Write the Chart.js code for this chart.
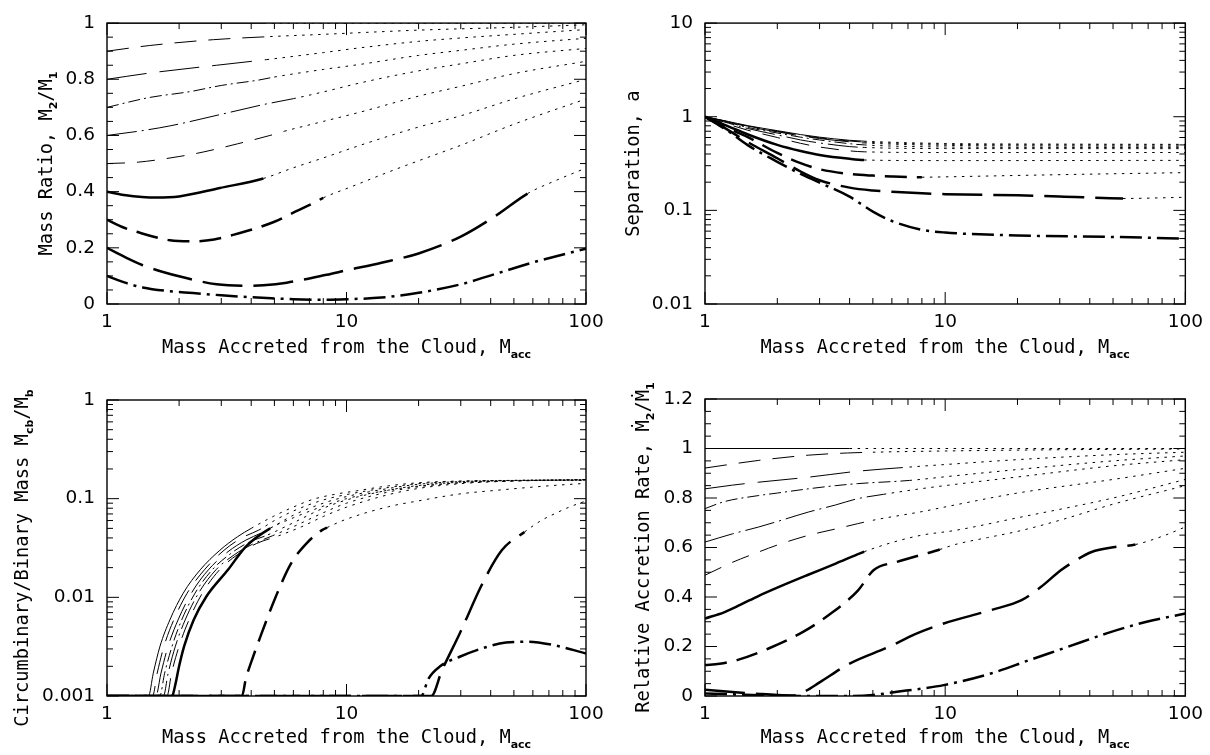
<!DOCTYPE html>
<html>
<head>
<meta charset="utf-8">
<script src="https://cdn.jsdelivr.net/npm/chart.js@4.4.1/dist/chart.umd.min.js"></script>
<style>
    body { margin: 0; background: #ffffff; width: 1210px; height: 755px; position: relative; overflow: hidden; }
    canvas { position: absolute; }
</style>
</head>
<body>
<canvas id="ratio" width="620" height="375" style="left:0;top:0"></canvas>
<canvas id="separation" width="610" height="375" style="left:600px;top:0"></canvas>
<canvas id="cbmass" width="620" height="380" style="left:0;top:375px"></canvas>
<canvas id="rate" width="610" height="380" style="left:600px;top:375px"></canvas>
<script>
// initial mass ratios q0 of the ten runs, in the order of the curve lists below
const initialRatios = [0.1, 0.2, 0.3, 0.4, 0.5, 0.6, 0.7, 0.8, 0.9, 1.0];

// each curve: [M_acc, value] pairs; the break is where the line turns dotted
const ratioCurves = [
    [[1, 0.1], [1.2, 0.075], [1.41, 0.059], [1.8, 0.046], [2.29, 0.039], [3, 0.031], [3.83, 0.025], [5, 0.02], [6, 0.017], [8, 0.015], [10, 0.017], [14, 0.023], [20, 0.04], [30, 0.07], [43, 0.11], [60, 0.148], [100, 0.197]],
    [[1, 0.2], [1.2, 0.165], [1.41, 0.138], [1.7, 0.115], [2.08, 0.095], [2.87, 0.07], [3.83, 0.065], [4.5, 0.067], [5.63, 0.076], [8.26, 0.104], [10, 0.12], [14, 0.147], [20, 0.18], [30, 0.24], [43, 0.32], [57, 0.393], [75, 0.44], [100, 0.484]],
    [[1, 0.3], [1.15, 0.275], [1.33, 0.257], [1.83, 0.227], [2.29, 0.223], [2.8, 0.23], [3.36, 0.246], [4.94, 0.291], [6, 0.325], [7.5, 0.365], [8, 0.378], [10.3, 0.415], [15, 0.47], [20, 0.51], [30, 0.565], [50, 0.64], [100, 0.73]],
    [[1, 0.4], [1.2, 0.387], [1.4, 0.381], [1.61, 0.379], [2, 0.383], [2.96, 0.413], [4.5, 0.447], [6, 0.485], [8, 0.52], [11.4, 0.565], [20, 0.63], [30, 0.67], [50, 0.73], [100, 0.8]],
    [[1, 0.5], [1.35, 0.505], [2, 0.525], [2.52, 0.541], [3.5, 0.57], [4.79, 0.6], [5.5, 0.615], [8, 0.65], [11.4, 0.683], [20, 0.74], [30, 0.775], [50, 0.82], [100, 0.864]],
    [[1, 0.6], [1.4, 0.617], [1.83, 0.634], [3.06, 0.677], [4.5, 0.71], [6, 0.731], [8, 0.755], [11.4, 0.787], [20, 0.83], [30, 0.855], [50, 0.885], [100, 0.91]],
    [[1, 0.7], [1.5, 0.735], [2.22, 0.756], [3, 0.778], [4.35, 0.798], [5, 0.808], [8, 0.835], [11.4, 0.853], [20, 0.885], [30, 0.903], [50, 0.925], [100, 0.946]],
    [[1, 0.8], [1.5, 0.822], [2.87, 0.85], [4.64, 0.87], [8, 0.895], [11.4, 0.912], [20, 0.935], [30, 0.947], [50, 0.96], [100, 0.977]],
    [[1, 0.9], [1.5, 0.92], [2.78, 0.941], [4.8, 0.952], [8, 0.96], [11.4, 0.966], [20, 0.975], [50, 0.985], [100, 0.994]],
    [[1, 1], [4.5, 1], [100, 1]]
];
const ratioBreaks = [null, 57, 8, 4.5, 5.5, 6, 5, 4.64, 4.8, 4.5];

const separationCurves = [
    [[1, 1], [1.25, 0.7], [1.5, 0.5], [2, 0.33], [2.5, 0.245], [3, 0.198], [4, 0.14], [5, 0.097], [6, 0.077], [8, 0.062], [10, 0.058], [20, 0.054], [50, 0.052], [100, 0.05]],
    [[1, 1], [1.25, 0.72], [1.5, 0.54], [2, 0.36], [2.5, 0.26], [3, 0.21], [4, 0.175], [5, 0.163], [6, 0.158], [8, 0.152], [10, 0.149], [20, 0.145], [30, 0.141], [55, 0.134], [100, 0.138]],
    [[1, 1], [1.25, 0.75], [1.5, 0.61], [2, 0.41], [2.5, 0.32], [3, 0.275], [4, 0.245], [5, 0.235], [6, 0.23], [8, 0.226], [10, 0.228], [20, 0.236], [50, 0.246], [100, 0.253]],
    [[1, 1], [1.25, 0.79], [1.5, 0.65], [2, 0.5], [2.5, 0.43], [3, 0.39], [4, 0.355], [4.6, 0.345], [10, 0.34], [100, 0.342]],
    [[1, 1], [1.25, 0.83], [1.5, 0.72], [2, 0.6], [2.5, 0.52], [3, 0.475], [4, 0.432], [4.6, 0.422], [10, 0.415], [100, 0.415]],
    [[1, 1], [1.25, 0.855], [1.5, 0.75], [2, 0.64], [2.5, 0.565], [3, 0.525], [4, 0.48], [4.6, 0.47], [10, 0.457], [100, 0.456]],
    [[1, 1], [1.25, 0.87], [1.5, 0.77], [2, 0.67], [2.5, 0.605], [3, 0.565], [4, 0.515], [4.6, 0.5], [10, 0.475], [30, 0.47], [100, 0.468]],
    [[1, 1], [1.25, 0.88], [1.5, 0.785], [2, 0.69], [2.5, 0.625], [3, 0.585], [4, 0.54], [4.6, 0.525], [10, 0.495], [30, 0.487], [100, 0.484]],
    [[1, 1], [1.25, 0.885], [1.5, 0.795], [2, 0.7], [2.5, 0.635], [3, 0.595], [4, 0.55], [4.6, 0.537], [10, 0.508], [30, 0.5], [100, 0.498]],
    [[1, 1], [1.25, 0.89], [1.5, 0.805], [2, 0.71], [2.5, 0.645], [3, 0.605], [4, 0.56], [4.6, 0.548], [10, 0.518], [30, 0.51], [100, 0.507]]
];
const separationBreaks = [null, 55, 8, 4.6, 4.6, 4.6, 4.6, 4.6, 4.6, 4.6];

// circumbinary mass is floored at 0.001 before the disc forms
const cbMassCurves = [
    [[1, 0.001], [20.5, 0.001], [22, 0.0015], [24.6, 0.002], [29.7, 0.0025], [37, 0.00305], [46.3, 0.00348], [57.5, 0.00355], [72.3, 0.0033], [100, 0.0027]],
    [[1, 0.001], [22.6, 0.001], [25, 0.0018], [29.7, 0.0043], [37, 0.0139], [44.5, 0.03], [55.4, 0.046], [65, 0.06], [74.6, 0.071], [85, 0.082], [100, 0.095]],
    [[1, 0.001], [3.66, 0.001], [3.8, 0.0015], [4, 0.0022], [4.37, 0.004], [5.07, 0.0102], [5.87, 0.0221], [6.81, 0.0353], [7.9, 0.048], [8.3, 0.051], [10, 0.062], [15, 0.083], [20, 0.095], [30, 0.112], [43, 0.122], [70, 0.135], [100, 0.143]],
    [[1, 0.001], [1.87, 0.001], [1.92, 0.00124], [2, 0.002], [2.1, 0.0032], [2.3, 0.0059], [2.6, 0.0102], [3.2, 0.019], [3.8, 0.0327], [4.8, 0.05], [6, 0.064], [8, 0.084], [10, 0.1], [15, 0.122], [20, 0.134], [30, 0.145], [50, 0.151], [100, 0.155]],
    [[1, 0.001], [1.78, 0.001], [1.86, 0.0017], [2, 0.0032], [2.2, 0.0059], [2.5, 0.011], [2.95, 0.019], [3.5, 0.027], [4.2, 0.035], [5.2, 0.042], [6.5, 0.052], [8, 0.066], [10, 0.082], [15, 0.11], [20, 0.127], [30, 0.142], [50, 0.151], [100, 0.156]],
    [[1, 0.001], [1.72, 0.001], [1.8, 0.0017], [1.93, 0.0032], [2.12, 0.0059], [2.41, 0.011], [2.85, 0.019], [3.4, 0.027], [4, 0.034], [4.9, 0.042], [6, 0.052], [8, 0.072], [10, 0.09], [15, 0.117], [20, 0.132], [30, 0.145], [50, 0.152], [100, 0.156]],
    [[1, 0.001], [1.66, 0.001], [1.74, 0.0017], [1.87, 0.0032], [2.05, 0.0059], [2.33, 0.011], [2.75, 0.019], [3.3, 0.028], [3.9, 0.036], [4.7, 0.043], [6, 0.057], [8, 0.08], [10, 0.097], [15, 0.122], [20, 0.136], [30, 0.147], [50, 0.153], [100, 0.156]],
    [[1, 0.001], [1.6, 0.001], [1.68, 0.0017], [1.8, 0.0032], [1.98, 0.0059], [2.25, 0.011], [2.65, 0.019], [3.2, 0.029], [3.8, 0.038], [4.5, 0.046], [5, 0.053], [6, 0.068], [8, 0.09], [10, 0.105], [15, 0.127], [20, 0.14], [30, 0.149], [50, 0.153], [100, 0.155]],
    [[1, 0.001], [1.55, 0.001], [1.62, 0.0017], [1.73, 0.0032], [1.9, 0.0059], [2.16, 0.011], [2.55, 0.019], [3.08, 0.03], [3.65, 0.04], [4.3, 0.048], [5, 0.06], [6, 0.075], [8, 0.097], [10, 0.11], [15, 0.13], [20, 0.142], [30, 0.15], [50, 0.153], [100, 0.154]],
    [[1, 0.001], [1.49, 0.001], [1.56, 0.0017], [1.665, 0.0032], [1.83, 0.0059], [2.08, 0.011], [2.45, 0.019], [2.96, 0.03], [3.5, 0.041], [4, 0.05], [4.94, 0.066], [5.98, 0.082], [7.3, 0.099], [9, 0.111], [11, 0.12], [15, 0.135], [20, 0.145], [30, 0.151], [50, 0.153], [100, 0.153]]
];
const cbMassBreaks = [null, 55.4, 8.3, 4.8, 5.2, 4.9, 4.7, 4.5, 4.3, 4];

const rateCurves = [
    [[1, 0.01], [1.3, 0.007], [1.7, 0.003], [2.2, 0.001], [3, 0], [4, 0], [5, 0.004], [6.3, 0.017], [8, 0.03], [9.86, 0.044], [15.5, 0.091], [22.4, 0.145], [32.5, 0.199], [47, 0.253], [69, 0.3], [100, 0.333]],
    [[1, 0.025], [1.3, 0.016], [1.7, 0.008], [2, 0.004], [2.35, 0.002], [2.6, 0.018], [3, 0.055], [4.02, 0.132], [5.84, 0.199], [7.5, 0.25], [9.86, 0.293], [15.5, 0.347], [20.8, 0.387], [25, 0.44], [30.3, 0.508], [35, 0.548], [40.7, 0.582], [51, 0.602], [62, 0.612], [80, 0.645], [100, 0.683]],
    [[1, 0.125], [1.15, 0.13], [1.36, 0.145], [1.84, 0.192], [2.56, 0.259], [3.34, 0.333], [4.34, 0.427], [5.03, 0.508], [6.3, 0.542], [8.5, 0.578], [9.5, 0.592], [11, 0.612], [15, 0.64], [20, 0.665], [30, 0.71], [50, 0.775], [100, 0.85]],
    [[1, 0.313], [1.2, 0.338], [1.4, 0.368], [1.675, 0.405], [2, 0.438], [2.69, 0.49], [3.5, 0.535], [4.31, 0.572], [4.6, 0.583], [6, 0.62], [8, 0.65], [11, 0.669], [20, 0.72], [50, 0.8], [100, 0.875]],
    [[1, 0.488], [1.3, 0.54], [1.675, 0.582], [2, 0.61], [2.69, 0.649], [3.5, 0.675], [4.31, 0.696], [5, 0.71], [8, 0.745], [11, 0.772], [20, 0.82], [50, 0.875], [100, 0.92]],
    [[1, 0.622], [1.3, 0.655], [1.675, 0.683], [2, 0.705], [2.69, 0.743], [3.5, 0.772], [4.31, 0.797], [5.55, 0.815], [8, 0.838], [11, 0.855], [20, 0.885], [50, 0.93], [100, 0.955]],
    [[1, 0.757], [1.2, 0.785], [1.675, 0.81], [2, 0.82], [2.69, 0.837], [3.5, 0.85], [4.31, 0.858], [7.1, 0.871], [11, 0.89], [20, 0.915], [50, 0.95], [100, 0.97]],
    [[1, 0.837], [1.3, 0.852], [1.675, 0.864], [2.69, 0.884], [4.31, 0.908], [7.1, 0.925], [11, 0.938], [20, 0.955], [50, 0.975], [100, 0.985]],
    [[1, 0.921], [1.675, 0.952], [2.69, 0.973], [3.93, 0.982], [5, 0.985], [10, 0.99], [30, 0.995], [100, 0.998]],
    [[1, 1], [4, 1], [100, 1]]
];
const rateBreaks = [null, 62, 9.5, 4.6, 5, 5.55, 7.1, 7.1, 5, 4];

// tick values
const maccTicks = [1, 10, 100];
const maccMinor = [2, 3, 4, 5, 6, 7, 8, 9, 20, 30, 40, 50, 60, 70, 80, 90];
const ratioTicks = [0, 0.2, 0.4, 0.6, 0.8, 1];
const ratioMinor = [0.05, 0.1, 0.15, 0.25, 0.3, 0.35, 0.45, 0.5, 0.55, 0.65, 0.7, 0.75, 0.85, 0.9, 0.95];
const separationTicks = [0.01, 0.1, 1, 10];
const separationMinor = [0.02, 0.03, 0.04, 0.05, 0.06, 0.07, 0.08, 0.09, 0.2, 0.3, 0.4, 0.5, 0.6, 0.7, 0.8, 0.9, 2, 3, 4, 5, 6, 7, 8, 9];
const cbMassTicks = [0.001, 0.01, 0.1, 1];
const cbMassMinor = [0.002, 0.003, 0.004, 0.005, 0.006, 0.007, 0.008, 0.009, 0.02, 0.03, 0.04, 0.05, 0.06, 0.07, 0.08, 0.09, 0.2, 0.3, 0.4, 0.5, 0.6, 0.7, 0.8, 0.9];
const rateTicks = [0, 0.2, 0.4, 0.6, 0.8, 1, 1.2];
const rateMinor = [0.05, 0.1, 0.15, 0.25, 0.3, 0.35, 0.45, 0.5, 0.55, 0.65, 0.7, 0.75, 0.85, 0.9, 0.95, 1.05, 1.1, 1.15];

// line look for each q0, thick for the low ratios
const lineStyles = [
    { width: 2.5, dash: [22, 6, 3, 6] },
    { width: 2.5, dash: [40, 11] },
    { width: 2.5, dash: [22, 10] },
    { width: 2.5, dash: [] },
    { width: 1, dash: [18, 12] },
    { width: 1, dash: [30, 5, 2, 5] },
    { width: 1, dash: [12, 4, 2, 4] },
    { width: 1, dash: [40, 13] },
    { width: 1, dash: [22, 12] },
    { width: 1, dash: [] }
];
const dottedDash = [2.5, 5.5];

const TITLE_FONT = '18.7px "DejaVu Sans Mono", monospace';
const SUB_FONT = 'bold 11px "DejaVu Sans", sans-serif';
const tickFont = { family: 'DejaVu Sans', size: 18.5 };

const accLabel = [{ text: 'Mass Accreted from the Cloud, M' }, { text: 'acc', sub: true }];

function drawRichText(ctx, parts, x, y, angle) {
    ctx.save();
    ctx.translate(x, y);
    ctx.rotate(angle);
    ctx.fillStyle = '#000';
    ctx.textBaseline = 'alphabetic';
    ctx.textAlign = 'left';
    let total = 0;
    const widths = parts.map(p => {
        ctx.font = p.sub ? SUB_FONT : TITLE_FONT;
        const w = ctx.measureText(p.text).width;
        total += w;
        return w;
    });
    let cx = -total / 2;
    parts.forEach((p, i) => {
        ctx.font = p.sub ? SUB_FONT : TITLE_FONT;
        ctx.fillText(p.text, cx, p.sub ? 5 : 0);
        cx += widths[i];
    });
    ctx.restore();
}

// box, inward tick marks on all four sides, and the axis titles
function framePlugin(cfg) {
    return {
        id: 'frame',
        afterDraw(chart) {
            const { ctx, chartArea: a, scales } = chart;
            const xs = scales.x;
            const ys = scales.y;
            ctx.save();
            ctx.strokeStyle = '#000';
            ctx.lineWidth = 1;
            ctx.beginPath();
            const xMark = (v, len) => {
                const px = xs.getPixelForValue(v);
                ctx.moveTo(px, a.bottom);
                ctx.lineTo(px, a.bottom - len);
                ctx.moveTo(px, a.top);
                ctx.lineTo(px, a.top + len);
            };
            const yMark = (v, len) => {
                const py = ys.getPixelForValue(v);
                ctx.moveTo(a.left, py);
                ctx.lineTo(a.left + len, py);
                ctx.moveTo(a.right, py);
                ctx.lineTo(a.right - len, py);
            };
            maccTicks.forEach(v => xMark(v, 12));
            maccMinor.forEach(v => xMark(v, 6));
            cfg.yMajor.forEach(v => yMark(v, 12));
            cfg.yMinor.forEach(v => yMark(v, 6));
            ctx.stroke();
            ctx.lineWidth = 1.4;
            ctx.strokeRect(a.left, a.top, a.right - a.left, a.bottom - a.top);
            ctx.restore();

            drawRichText(ctx, accLabel, (a.left + a.right) / 2, cfg.xTitleY, 0);
            drawRichText(ctx, cfg.yTitle, cfg.yTitleX, (a.top + a.bottom) / 2 + cfg.yTitleShift, -Math.PI / 2);
        }
    };
}

function buildPanel(canvasId, cfg) {
    const datasets = cfg.curves.map((pts, i) => {
        const style = lineStyles[i];
        const brk = cfg.breaks[i];
        const dotted = c => brk !== null && c.p0.parsed.x >= brk * 0.999;
        return {
            label: 'q0 = ' + initialRatios[i],
            data: pts.map(([x, y]) => ({ x: x, y: y })),
            borderColor: '#000',
            borderWidth: style.width,
            borderDash: style.dash,
            pointRadius: 0,
            fill: false,
            cubicInterpolationMode: 'monotone',
            segment: {
                borderDash: c => (dotted(c) ? dottedDash : undefined),
                borderWidth: c => (dotted(c) ? 1 : undefined)
            }
        };
    });

    const yAxis = {
        type: cfg.yType,
        min: cfg.yMin,
        max: cfg.yMax,
        grid: { display: false, drawTicks: false },
        border: { display: false },
        afterBuildTicks: s => { s.ticks = cfg.yMajor.map(v => ({ value: v })); },
        afterFit: s => { s.width = cfg.yWidth; },
        ticks: { autoSkip: false, padding: 12, color: '#000', font: tickFont, callback: v => String(v) }
    };

    new Chart(document.getElementById(canvasId), {
        type: 'line',
        data: { datasets: datasets },
        options: {
            responsive: false,
            animation: false,
            devicePixelRatio: 1,
            layout: { padding: cfg.padding },
            plugins: { legend: { display: false }, tooltip: { enabled: false } },
            scales: {
                x: {
                    type: 'logarithmic',
                    min: 1,
                    max: 100,
                    grid: { display: false, drawTicks: false },
                    border: { display: false },
                    afterBuildTicks: s => { s.ticks = maccTicks.map(v => ({ value: v })); },
                    afterFit: s => { s.height = cfg.xHeight; },
                    ticks: { autoSkip: false, maxRotation: 0, padding: 7, color: '#000', font: tickFont, callback: v => String(v) }
                },
                y: yAxis
            }
        },
        plugins: [framePlugin(cfg)]
    });
}

buildPanel('ratio', {
    curves: ratioCurves, breaks: ratioBreaks,
    yType: 'linear', yMin: 0, yMax: 1, yMajor: ratioTicks, yMinor: ratioMinor,
    yWidth: 107, xHeight: 71, padding: { top: 10, right: 34, bottom: 0, left: 0 },
    xTitleY: 353, yTitleX: 52, yTitleShift: 0,
    yTitle: [{ text: 'Mass Ratio, M' }, { text: '2', sub: true }, { text: '/M' }, { text: '1', sub: true }]
});

buildPanel('separation', {
    curves: separationCurves, breaks: separationBreaks,
    yType: 'logarithmic', yMin: 0.01, yMax: 10, yMajor: separationTicks, yMinor: separationMinor,
    yWidth: 105, xHeight: 71, padding: { top: 10, right: 18, bottom: 0, left: 0 },
    xTitleY: 353, yTitleX: 39, yTitleShift: 0,
    yTitle: [{ text: 'Separation, a' }]
});

buildPanel('cbmass', {
    curves: cbMassCurves, breaks: cbMassBreaks,
    yType: 'logarithmic', yMin: 0.001, yMax: 1, yMajor: cbMassTicks, yMinor: cbMassMinor,
    yWidth: 107, xHeight: 59, padding: { top: 25, right: 34, bottom: 0, left: 0 },
    xTitleY: 368, yTitleX: 28, yTitleShift: 10,
    yTitle: [{ text: 'Circumbinary/Binary Mass M' }, { text: 'cb', sub: true }, { text: '/M' }, { text: 'b', sub: true }]
});

buildPanel('rate', {
    curves: rateCurves, breaks: rateBreaks,
    yType: 'linear', yMin: 0, yMax: 1.2, yMajor: rateTicks, yMinor: rateMinor,
    yWidth: 105, xHeight: 59, padding: { top: 24, right: 18, bottom: 0, left: 0 },
    xTitleY: 368, yTitleX: 49, yTitleShift: 0,
    yTitle: [{ text: 'Relative Accretion Rate, \u1E40' }, { text: '2', sub: true }, { text: '/\u1E40' }, { text: '1', sub: true }]
});
</script>
</body>
</html>
